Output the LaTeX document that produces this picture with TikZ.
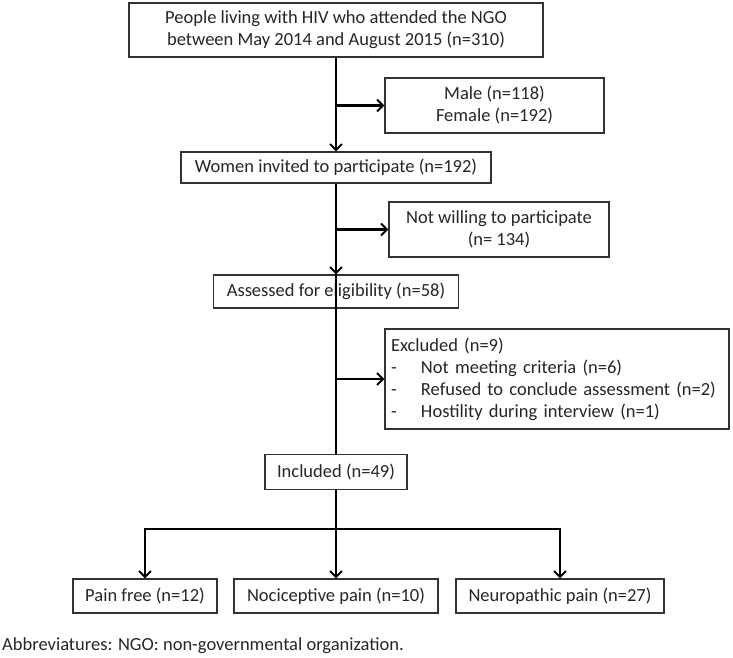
\documentclass[tikz,border=0pt]{standalone}
\usepackage{fontspec}
\setmainfont{Carlito}
\usetikzlibrary{arrows.meta}

\begin{document}
\begin{tikzpicture}[x=1pt, y=-1pt,
    box/.style={draw=black!80, line width=1.1pt, fill=white, inner sep=0pt, align=center, text=black!85,
        font=\fontsize{18.5}{22}\selectfont},
    link/.style={line width=2.4pt},
    flow/.style={link, -{Straight Barb[length=6pt, width=12pt, line width=2pt]}}]
    \useasboundingbox (0,0) rectangle (733,658);
    % main column
    \node (top) at (336,30) [box, minimum width=414pt, minimum height=54pt] {People living with HIV who attended the NGO\\between May 2014 and August 2015 (n=310)};
    \node (women) at (336,167.5) [box, minimum width=310pt, minimum height=31pt] {Women invited to participate (n=192)};
    \node (assessed) at (336,291.5) [box, minimum width=245pt, minimum height=33pt] {Assessed for eligibility (n=58)};
    \node (included) at (336,472) [box, minimum width=142pt, minimum height=35pt] {Included (n=49)};
    % side boxes
    \node (sex) at (494.5,105.5) [box, minimum width=219pt, minimum height=55pt] {Male (n=118)\\Female (n=192)};
    \node (unwilling) at (499,229.5) [box, minimum width=220pt, minimum height=55pt] {Not willing to participate\\(n= 134)};
    \node (excluded) at (557,379) [box, minimum height=100pt, text width=332pt, inner xsep=6pt, align=left] {Excluded (n=9)\\
        \makebox[30pt][l]{-}Not meeting criteria (n=6)\\
        \makebox[30pt][l]{-}Refused to conclude assessment (n=2)\\
        \makebox[30pt][l]{-}Hostility during interview (n=1)};
    % outcome boxes
    \node (painfree) at (145,596) [box, minimum width=144pt, minimum height=34pt] {Pain free (n=12)};
    \node (nociceptive) at (336,596) [box, minimum width=204pt, minimum height=34pt] {Nociceptive pain (n=10)};
    \node (neuropathic) at (560,596) [box, minimum width=208pt, minimum height=34pt] {Neuropathic pain (n=27)};
    \node (abbrev) at (2,646) [anchor=west, inner sep=0pt, text=black!85, font=\fontsize{18.5}{22}\selectfont] {Abbreviatures: NGO: non-governmental organization.};
    \coordinate (split) at (336,529);

    \draw [flow] (top) -- (women);
    \draw [flow] (top.south |- sex.west) -- (sex.west);
    \draw [flow] (women) -- (assessed);
    \draw [flow] (women.south |- unwilling.west) -- (unwilling.west);
    \draw [link] (assessed.north) -- (included);
    \draw [flow] (assessed.south |- excluded.west) -- (excluded.west);
    \draw [link] (included) -- (split);
    \draw [flow] (split) -| (painfree);
    \draw [flow] (split) -- (nociceptive);
    \draw [flow] (split) -| (neuropathic);
\end{tikzpicture}
\end{document}
